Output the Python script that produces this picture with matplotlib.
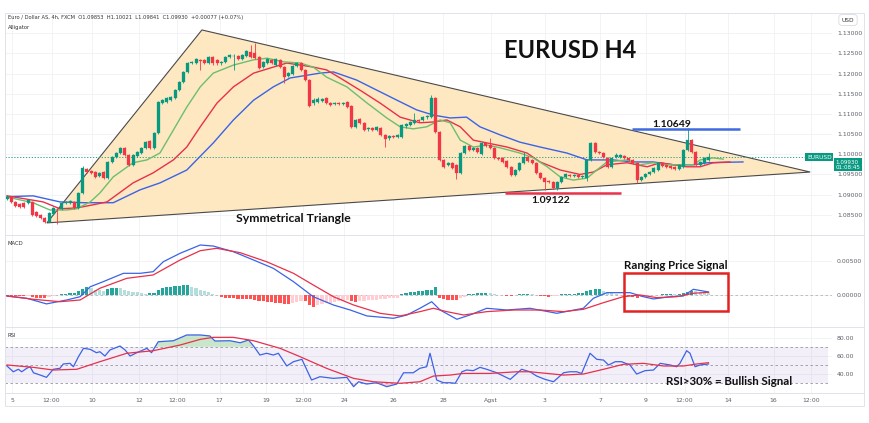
import numpy as np
import matplotlib.pyplot as plt
from matplotlib.patches import Polygon, Rectangle
from matplotlib.lines import Line2D
import matplotlib.transforms as mtransforms

# EURUSD 4h candles, values in pips above 1.0800
BASE = 1.08
opens = [89, 94, 82, 77, 80, 79, 82, 57, 50, 42, 33, 52, 65, 64, 80, 80, 82, 67, 104, 163,
         158, 156, 146, 156, 141, 181, 193, 203, 216, 198, 174, 196, 203, 216, 233, 216, 253, 327, 330, 335,
         340, 359, 379, 404, 426, 426, 433, 433, 426, 441, 433, 426, 428, 441, 443, 443, 436, 443, 453, 451,
         441, 416, 426, 434, 421, 434, 416, 394, 399, 419, 426, 409, 384, 327, 330, 332, 340, 327, 325, 327,
         325, 330, 320, 268, 287, 278, 263, 265, 260, 265, 248, 240, 245, 243, 243, 270, 272, 278, 285, 285,
         292, 292, 340, 255, 186, 174, 178, 174, 154, 203, 221, 211, 216, 201, 228, 223, 216, 191, 191, 183,
         169, 149, 161, 179, 193, 186, 179, 154, 141, 134, 131, 117, 131, 144, 149, 146, 149, 144, 140, 186,
         228, 206, 203, 191, 169, 193, 193, 196, 191, 186, 179, 136, 144, 151, 156, 161, 179, 174, 171, 169,
         164, 169, 211, 235, 206, 174, 179, 185]
closes = [94, 82, 72, 70, 69, 87, 50, 47, 42, 33, 55, 67, 64, 80, 82, 85, 67, 104, 166, 156,
          154, 144, 154, 141, 181, 193, 203, 216, 198, 174, 198, 206, 216, 231, 216, 253, 330, 335, 340, 342,
          359, 379, 404, 426, 428, 436, 431, 426, 441, 426, 426, 428, 441, 446, 444, 436, 446, 456, 441, 438,
          414, 429, 436, 426, 436, 416, 391, 401, 419, 426, 409, 384, 320, 335, 337, 337, 327, 322, 327, 325,
          327, 317, 268, 285, 278, 260, 265, 260, 268, 248, 238, 245, 243, 248, 273, 275, 280, 285, 283, 292,
          295, 340, 255, 186, 169, 178, 166, 154, 203, 221, 211, 216, 206, 228, 221, 216, 191, 188, 181, 169,
          149, 161, 179, 193, 183, 179, 154, 141, 131, 131, 117, 131, 144, 151, 146, 149, 144, 146, 186, 228,
          206, 203, 193, 169, 191, 198, 198, 191, 186, 179, 136, 144, 151, 156, 166, 179, 171, 169, 166, 164,
          174, 211, 235, 206, 174, 181, 191, 193]
highs = [99, 96, 84, 80, 82, 90, 84, 59, 52, 44, 57, 69, 68, 82, 85, 87, 84, 106, 170, 165,
         160, 158, 157, 158, 184, 196, 206, 219, 219, 200, 201, 208, 218, 233, 236, 255, 333, 338, 343, 345,
         362, 382, 406, 429, 431, 439, 436, 436, 444, 444, 436, 431, 444, 449, 448, 446, 448, 458, 471, 476,
         444, 431, 439, 436, 439, 436, 418, 404, 421, 429, 429, 411, 386, 340, 342, 340, 342, 330, 330, 330,
         330, 332, 322, 288, 290, 280, 268, 268, 270, 268, 250, 248, 248, 250, 275, 278, 282, 302, 288, 295,
         298, 347, 342, 258, 189, 181, 181, 176, 206, 223, 223, 218, 218, 231, 231, 240, 218, 193, 193, 186,
         171, 164, 181, 206, 196, 188, 181, 156, 144, 137, 134, 134, 146, 154, 151, 151, 151, 149, 188, 231,
         231, 208, 206, 193, 193, 203, 201, 198, 193, 188, 181, 146, 154, 159, 169, 181, 181, 176, 174, 171,
         176, 213, 265, 238, 208, 184, 193, 202]
lows = [86, 80, 70, 67, 66, 77, 47, 45, 40, 30, 31, 50, 28, 62, 78, 78, 65, 65, 102, 154,
        152, 141, 144, 139, 139, 179, 191, 201, 196, 171, 172, 193, 201, 213, 213, 213, 250, 324, 328, 333,
        338, 356, 376, 401, 423, 423, 409, 423, 423, 421, 421, 421, 426, 438, 409, 433, 433, 441, 438, 436,
        411, 413, 423, 423, 418, 413, 377, 391, 396, 416, 406, 381, 317, 322, 327, 330, 324, 320, 322, 322,
        322, 315, 265, 265, 275, 258, 258, 258, 258, 245, 218, 236, 240, 240, 240, 265, 270, 275, 280, 282,
        288, 290, 252, 183, 166, 171, 163, 139, 151, 201, 208, 208, 203, 198, 218, 213, 188, 186, 178, 166,
        146, 146, 159, 176, 181, 176, 151, 139, 112, 129, 114, 112, 129, 141, 144, 144, 141, 141, 134, 183,
        203, 201, 191, 166, 166, 191, 191, 188, 183, 176, 129, 134, 141, 149, 154, 159, 169, 166, 164, 161,
        161, 166, 208, 203, 171, 171, 176, 184]

# Alligator lines (bar index, pips above 1.0800)
jaw_x = [0, 6.2, 12.6, 18.1, 25.3, 31.7, 36.4, 42.8, 49.1, 53.9, 58.7, 63.4, 67.4, 74.5, 77.7, 83.2, 88, 93.6,
         97.5, 101.5, 105.5, 109.4, 112.6, 117.4, 122.1, 126.9, 133.3, 138.1, 144.3, 149, 153.8, 158.6, 163.4,
         166.7, 175.2]
jaw_y = [95, 97, 82, 80, 80, 112, 129, 161, 228, 285, 334, 367, 389, 401, 404, 384, 359, 330, 310, 297,
         290, 292, 268, 248, 230, 218, 203, 186, 186, 181, 181, 174, 174, 179, 181]
teeth_x = [0, 8.6, 12.6, 16.6, 20.6, 23.8, 30, 34.8, 39.6, 42.8, 46, 50, 53.9, 58.7, 63.4, 66.6, 69.8, 72.9,
           76.1, 79.3, 84, 88.8, 93.6, 98.3, 101.5, 104.7, 107.9, 111, 114.3, 119, 123.8, 126.9, 131.7, 136.4,
           139.6, 142.8, 147.6, 152.4, 155.5, 161.8, 165, 168.1, 172.1]
teeth_y = [97, 82, 65, 67, 75, 82, 129, 154, 186, 218, 268, 327, 367, 401, 416, 426, 421, 416, 409, 389,
           359, 327, 292, 278, 280, 285, 268, 235, 228, 218, 203, 181, 161, 150, 156, 174, 179, 169, 179, 169,
           169, 179, 181]
lips_x = [0, 6.2, 10.2, 14.2, 16.6, 19.8, 22.1, 25.3, 30, 33.3, 36.4, 39.6, 42.8, 46, 49.1, 53.9, 58.7, 61.9,
          65.8, 69.8, 72.9, 76.1, 80.9, 85.7, 90.4, 93.6, 96.7, 99.9, 103.1, 105.5, 107.9, 111, 114.3, 117.4,
          122.1, 125.3, 128.6, 131.7, 134.8, 138.1, 139.6, 142.8, 147.6, 150.7, 153.8, 157.1, 163.4, 165,
          168.1, 170.5]
lips_y = [94, 80, 62, 62, 65, 82, 104, 144, 179, 186, 203, 260, 317, 367, 401, 421, 434, 438, 429, 426,
          416, 391, 367, 327, 290, 268, 263, 268, 285, 278, 235, 218, 223, 216, 203, 191, 169, 144, 136, 141,
          154, 181, 186, 174, 179, 174, 174, 186, 191, 188]

# MACD (units of 0.0001)
macd_x = [0, 4.7, 9.4, 14.2, 17.4, 19.8, 22.9, 27.7, 31.7, 34.8, 37.2, 41.2, 46, 49.1, 53.9, 58.7, 63.4, 68.2,
          72.9, 77.7, 81.7, 85.7, 92, 95.2, 98.3, 101.1, 103.1, 107.1, 110.2, 114.2, 119, 124.5, 130.9, 137.2,
          139.6, 142.8, 148.3, 151.5, 153.9, 157.9, 161, 163.4, 167]
macd_y = [-1.5, -4.8, -13, -7.3, -2.5, 12, 19.4, 31.6, 31.6, 34, 48.5, 60.8, 72.9, 71.4, 63.1, 51, 38.9, 19.4,
          -2.5, -14.6, -21.9, -30.6, -34, -29.2, -19.4, -9.8, -21.9, -35.4, -29.2, -19.4, -21.9, -19.4, -26.7,
          -19.4, -4.8, 3.4, 3.4, -2.5, -5.8, -2.5, -1.5, 8.3, 4.4]
signal_x = [0, 6.3, 12.6, 17.4, 22.1, 28.5, 34.8, 41.2, 46, 49.9, 55.5, 61.8, 68.2, 72.9, 77.7, 82.5, 88.8,
            93.6, 98.3, 101.5, 104.7, 108.7, 114.2, 120.6, 126.9, 132.5, 137.2, 142, 146.7, 150.7, 154.7,
            159.4, 163.4, 167]
signal_y = [-1.5, -6.3, -9.8, -7.3, 9.8, 24.3, 29.2, 51, 64.6, 68.1, 61.7, 48.5, 31.6, 14.6, -2.5, -14.6,
            -26.7, -30.6, -24.3, -19.4, -24.3, -29.2, -24.3, -21.9, -21.9, -24.3, -20.9, -11.2, -2.5, 0, -3.9,
            -2.5, 2.5, 3.9]
hist = [-1, -1, -1.5, -1.5, -2, -1.5, -3, -4, -4.5, -5, -3.5, -1.5, -0.5, 1.5, 2, 3, 3.5, 6, 9, 11,
        10, 8, 7, 6.5, 9, 10, 10.5, 10, 8, 6.5, 5, 4, 3, 2, 2.5, 3, 7, 10, 11, 12,
        12.5, 13, 14, 14.5, 12, 10, 8, 6, 4, 2, 0.5, -3, -4, -5, -5, -5.5, -6, -6, -6.5, -8,
        -8.5, -9, -10, -10.5, -11, -12, -12.5, -13, -11, -10, -9, -9.5, -15, -17, -15, -13.5, -12, -11, -10, -9,
        -8.5, -8, -9.5, -10, -9, -8.5, -8, -7.5, -7, -6.5, -6, -5, -4.5, -4, 2, 3, 4, 5, 5.5, 6,
        7, 8, 11, -4, -6, -7, -7.5, -8, -5, -3, 1, 2, 2.5, 3, 3, 2.5, 2, 0.5, -0.5, -1,
        -1, 0, 1.5, 2, 2, 1.5, 0, -1.5, -2, -2.5, -2, -1, 1, 1.5, 2, 2, 2.5, 3, 6, 7.5,
        8.5, 9, 6, 4.5, 3, 2, 0.5, -0.5, -2, -3, -4, -3.5, -2.5, -1.5, -0.5, 0.5, 1.5, 2, 2, 1.5,
        2, 3.5, 5, 6, 5.5, 4, 3, 2.5]

# RSI and its moving average
rsi_x = [0, 1.5, 2.7, 3.5, 4.7, 5.5, 6.3, 7.9, 9.4, 11, 12.6, 13.4, 15, 15.8, 17, 18.2, 19.8, 21.3, 22.1, 23.3,
         24.5, 26.9, 28.1, 29.3, 30.9, 33.3, 34.4, 36, 39.6, 42.8, 46, 48.3, 49.5, 53.1, 55.5, 57.5, 58.7, 60.2,
         61.8, 63.4, 64.6, 66.6, 68.2, 70.2, 72.5, 74.5, 77.7, 80.9, 82.5, 83.7, 85.6, 88, 90.4, 92.8, 94.4,
         96.7, 98.3, 99.9, 100.7, 102.3, 103.9, 105.5, 106.7, 108.3, 109.4, 111, 112.6, 114.2, 116.6, 119.8,
         122.5, 124.5, 126.1, 128.1, 130.1, 132.5, 134, 135.6, 136.8, 138.8, 140.4, 142, 143.2, 144.8, 146.3,
         148.3, 149.9, 151.9, 153.9, 155.5, 157.9, 159.4, 160.2, 161.8, 162.6, 163.8, 165, 167]
rsi_y = [49.1, 42.8, 45.5, 42.8, 46.6, 48.3, 41.7, 39.2, 36.7, 45.5, 46.6, 51.3, 52, 48.3, 59.2, 68.4, 67.3,
         63.6, 64.7, 60, 66.6, 70.9, 66.6, 60, 63.6, 68.4, 63.6, 75.6, 76.7, 83, 83, 81.9, 76.4, 76.7, 74.5,
         77.5, 70.9, 61.1, 63, 61.1, 63, 49.1, 53.8, 56.4, 33.8, 37.4, 35.6, 36.7, 26.5, 31.9, 29.4, 30.8,
         26.5, 29.4, 41.7, 41.7, 46.6, 48.3, 63, 33.8, 30.8, 30.8, 30.2, 42.8, 44.7, 44, 47.6, 45.5, 41.7,
         34.5, 45.5, 42.8, 38.1, 34.5, 31.9, 41.7, 42.8, 42.8, 41, 63, 56.4, 55.6, 50.2, 53.8, 53.8, 50.2,
         40.3, 44, 44.7, 52, 50.2, 48.3, 52, 65.8, 63, 48.3, 50.2, 51.3]
rsi_ma_x = [0, 6.3, 11, 16.6, 22.1, 28.5, 34.8, 41.2, 46, 49.1, 53.9, 58.7, 65, 69.8, 76.1, 82.5, 87.2, 93.6,
            98.3, 101.5, 105.5, 108.6, 115, 121.4, 124.5, 132.5, 137.2, 142, 146.7, 151.5, 156.3, 161, 164.2,
            167]
rsi_ma_y = [50.2, 47.6, 44.7, 45.5, 53.8, 63, 65.8, 72, 78.2, 80.4, 80.4, 76.7, 68.4, 59.2, 46.5, 35.6, 31.9,
            30.2, 31.9, 38.1, 39.2, 41, 41, 42.8, 42.8, 39.2, 40.3, 45.5, 50.9, 52, 49.1, 49.1, 51.3, 52.7]

# drawings on the chart
triangle_x = [9.5, 46.4, 191.2]
triangle_y = [30, 508, 156]
resistance = (148.8, 174.5, 1.1062)
support = (118.6, 146.2, 1.0904)
last_price = 1.0993

tick_pos = [1.2, 10.6, 20.3, 31.4, 40.4, 50.6, 61.6, 70.4, 80.3, 92, 103.8, 115.3, 128, 141.2, 152.1,
            161.3, 171.6, 182.5, 191.5]
tick_labels = ['5', '12:00', '10', '12', '12:00', '17', '19', '12:00', '24', '26', '28', 'Agst', '3', '7',
               '9', '12:00', '14', '16', '12:00']


def price(p):
    return BASE + np.asarray(p, dtype=float) / 1e4


UP, DOWN = '#089981', '#f23645'
GRID = '#eff1f5'
TXT = '#5d606b'

W, H = 870, 423
fig = plt.figure(figsize=(8.7, 4.23), dpi=100)


def box(x0, y0, x1, y1):
    return [x0 / W, 1 - y1 / H, (x1 - x0) / W, (y1 - y0) / H]


ax = fig.add_axes(box(5, 13, 832, 235))
ax_macd = fig.add_axes(box(5, 235, 832, 327), sharex=ax)
ax_rsi = fig.add_axes(box(5, 327, 832, 393), sharex=ax)

for a in (ax, ax_macd, ax_rsi):
    for s in a.spines.values():
        s.set_visible(False)
    a.yaxis.tick_right()
    a.tick_params(axis='both', length=0, labelsize=4.4, labelcolor=TXT, pad=3.5)
    a.grid(True, color=GRID, lw=0.6, zorder=0)
    a.set_axisbelow(True)
ax.set_xlim(-0.48, 196.4)
ax.set_xticks(tick_pos)
ax_rsi.set_xticklabels(tick_labels)
ax.tick_params(labelbottom=False)
ax_macd.tick_params(labelbottom=False)

# ---- price panel ----
ax.set_ylim(1.0800, 1.1350)
ax.set_yticks(np.arange(1.085, 1.1301, 0.005))
ax.yaxis.set_major_formatter(plt.FormatStrFormatter('%.5f'))

ax.add_patch(Polygon(list(zip(triangle_x, price(triangle_y))), closed=True,
                     facecolor='#fde8c2', edgecolor='#4a4a4a', lw=0.8, zorder=1))

o, c, h, l = price(opens), price(closes), price(highs), price(lows)
x = np.arange(len(o))
col = np.where(c >= o, UP, DOWN)
ax.vlines(x, l, h, colors=col, lw=0.6, zorder=4)
ax.bar(x, np.maximum(np.abs(c - o), 0.00004), bottom=np.minimum(o, c), width=0.72,
       color=col, edgecolor=col, lw=0.2, zorder=5)

ax.plot(jaw_x, price(jaw_y), color='#3b63e6', lw=1.0, zorder=3)
ax.plot(teeth_x, price(teeth_y), color='#e8304a', lw=1.0, zorder=3)
ax.plot(lips_x, price(lips_y), color='#6bbf6e', lw=1.0, zorder=3)

ax.axhline(last_price, color=UP, lw=0.6, ls=(0, (1.5, 2)), zorder=2)
ax.hlines(resistance[2], resistance[0], resistance[1], color='#3f6ae0', lw=1.8, zorder=6)
ax.hlines(support[2], support[0], support[1], color='#e8334a', lw=1.8, zorder=6)

ax.text(134, 1.1256, 'EURUSD H4', fontsize=17, fontweight='bold', family='Lato',
        ha='center', va='center', color='#111111', zorder=7)
ax.text(68.1, 1.0840, 'Symmetrical Triangle', fontsize=8.8, fontweight='bold', family='Lato',
        ha='center', va='center', color='#111111', zorder=7)
ax.text(158.3, 1.1075, '1.10649', fontsize=7.5, fontweight='bold', family='Lato',
        ha='center', va='center', color='#111111', zorder=7)
ax.text(129.5, 1.0886, '1.09122', fontsize=7.5, fontweight='bold', family='Lato',
        ha='center', va='center', color='#111111', zorder=7)

# last price tags on the scale
blend = mtransforms.blended_transform_factory(ax.transAxes, ax.transData)
ax.text(1.004, last_price - 0.0019, '1.09930\n01:08:45', transform=blend, fontsize=4.1, color='white',
        ha='left', va='center', linespacing=1.1, zorder=8, clip_on=False,
        bbox=dict(boxstyle='square,pad=0.25', fc=UP, ec='none'))
ax.text(0.9995, last_price, 'EURUSD', transform=blend, fontsize=4.2, color='white',
        ha='right', va='center', zorder=8, clip_on=False,
        bbox=dict(boxstyle='square,pad=0.3', fc=UP, ec='none'))

# ---- MACD panel ----
ax_macd.set_ylim(-46.7e-4, 87.5e-4)
ax_macd.set_yticks([0, 0.005])
ax_macd.yaxis.set_major_formatter(plt.FormatStrFormatter('%.5f'))
hv = np.array(hist) / 1e4
prev = np.concatenate([[0], hv[:-1]])
hcol = np.where(hv >= 0, np.where(hv >= prev, '#26a69a', '#b2dfdb'),
                np.where(hv <= prev, '#ff5252', '#ffcdd2'))
ax_macd.bar(np.arange(len(hv)), hv, width=0.75, color=hcol, zorder=2)
ax_macd.axhline(0, color='#b2b5be', lw=0.6, ls=(0, (3, 3)), zorder=1)
ax_macd.plot(macd_x, np.array(macd_y) / 1e4, color='#3b63e6', lw=0.9, zorder=3)
ax_macd.plot(signal_x, np.array(signal_y) / 1e4, color='#e8304a', lw=0.9, zorder=3)
ax_macd.add_patch(Rectangle((146.9, -23.3e-4), 24.8, 55.3e-4, fill=False,
                            edgecolor='#e32222', lw=1.8, zorder=6))
ax_macd.text(159.3, 43.7e-4, 'Ranging Price Signal', fontsize=8.3, fontweight='bold', family='Lato',
             ha='center', va='center', color='#111111', zorder=7)

# ---- RSI panel ----
ax_rsi.set_ylim(19.6, 91.7)
ax_rsi.set_yticks([40, 60, 80])
ax_rsi.yaxis.set_major_formatter(plt.FormatStrFormatter('%.2f'))
ax_rsi.fill_between([-0.48, 195.5], 30, 70, color='#7e57c2', alpha=0.09, lw=0, zorder=1)
for lev in (30, 50, 70):
    ax_rsi.hlines(lev, -0.48, 195.5, color='#9598a1', lw=0.6, ls=(0, (3, 3)), zorder=1)
rx, ry = np.array(rsi_x), np.array(rsi_y)
ax_rsi.fill_between(rx, ry, 70, where=ry > 70, interpolate=True, color='#a5d6a7', alpha=0.6, lw=0, zorder=2)
ax_rsi.fill_between(rx, ry, 30, where=ry < 30, interpolate=True, color='#ef9a9a', alpha=0.5, lw=0, zorder=2)
ax_rsi.plot(rx, ry, color='#3b63e6', lw=0.9, zorder=3)
ax_rsi.plot(rsi_ma_x, rsi_ma_y, color='#e8304a', lw=0.9, zorder=3)
ax_rsi.text(172, 32.7, 'RSI>30% = Bullish Signal', fontsize=8.3, fontweight='bold', family='Lato',
            ha='center', va='center', color='#111111', zorder=7)

# ---- frame, separators and captions ----
for yy in (235, 327, 393):
    fig.add_artist(Line2D([5 / W, 864 / W], [1 - yy / H] * 2, color='#e0e3eb', lw=0.7))
fig.add_artist(Rectangle((5 / W, 1 - 406 / H), 859 / W, 393 / H, fill=False, ec='#e0e3eb', lw=0.7,
                         transform=fig.transFigure))
fig.text(8 / W, 1 - 18 / H, 'Euro / Dollar AS, 4h, FXCM  O1.09853  H1.10021  L1.09841  C1.09930  '
         '+0.00077 (+0.07%)', fontsize=3.7, color='#333333', va='center')
fig.text(8 / W, 1 - 28 / H, 'Alligator', fontsize=3.8, color='#333333', va='center')
fig.text(8 / W, 1 - 243 / H, 'MACD', fontsize=3.8, color='#333333', va='center')
fig.text(8 / W, 1 - 335 / H, 'RSI', fontsize=3.8, color='#333333', va='center')
fig.text(848 / W, 1 - 20 / H, 'USD', fontsize=4.2, color='#333333', ha='center', va='center',
         bbox=dict(boxstyle='round,pad=0.5', fc='white', ec='#d8dbe2', lw=0.6))

fig.savefig('out.png', dpi=100)
